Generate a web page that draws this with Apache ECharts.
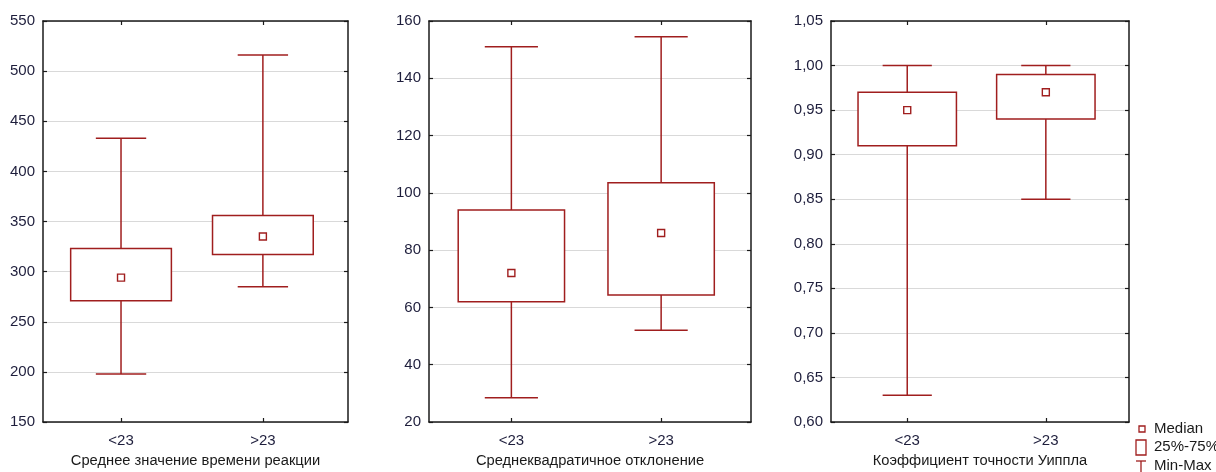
<!DOCTYPE html>
<html><head><meta charset="utf-8">
<script src="https://cdn.jsdelivr.net/npm/echarts@6/dist/echarts.min.js"></script>
<style>html,body{margin:0;padding:0;background:#fff}#c{width:1216px;height:472px}</style>
</head><body><div id="c"></div>
<script>
// ---- data ----
const categories = ['<23', '>23'];
const titles = ['Среднее значение времени реакции', 'Среднеквадратичное отклонение', 'Коэффициент точности Уиппла'];
// Panel 1: mean reaction time
const rtMin = [198, 285];
const rtQ1 = [271, 317];
const rtMed = [294, 335];
const rtQ3 = [323, 356];
const rtMax = [433, 516];
// Panel 2: standard deviation
const sdMin = [28.5, 52];
const sdQ1 = [62, 64.3];
const sdMed = [72, 86];
const sdQ3 = [94, 103.5];
const sdMax = [151, 154.5];
// Panel 3: Whipple accuracy coefficient
const wMin = [0.63, 0.85];
const wQ1 = [0.91, 0.94];
const wMed = [0.95, 0.97];
const wQ3 = [0.97, 0.99];
const wMax = [1.00, 1.00];
// y-axis ranges / ticks
const yMin = [150, 20, 0.60];
const yMax = [550, 160, 1.05];
const yStep = [50, 20, 0.05];
const legendLabels = ['Median', '25%-75%', 'Min-Max'];

// ---- layout ----
const grids = [
  {left: 43, top: 21, width: 305, height: 401, outerBoundsMode: 'none', containLabel: false},
  {left: 429, top: 21, width: 322, height: 401, outerBoundsMode: 'none', containLabel: false},
  {left: 831, top: 21, width: 298, height: 401, outerBoundsMode: 'none', containLabel: false}
];
const RED = '#a01e1e';
const FRAME = '#1a1a1a';
const LABEL = '#1e1e3c';
const FONT = 'Liberation Sans, Arial, sans-serif';

const panels = [
  [rtMin, rtQ1, rtMed, rtQ3, rtMax],
  [sdMin, sdQ1, sdMed, sdQ3, sdMax],
  [wMin, wQ1, wMed, wQ3, wMax]
];

const xAxes = [], yAxes = [], series = [];
panels.forEach((p, i) => {
  const base = {
    type: 'value', gridIndex: i, min: 0.45, max: 2.6,
    axisLine: {show: true, lineStyle: {color: FRAME, width: 1.5}},
    axisTick: {show: true, inside: true, length: 4, customValues: [1, 2], lineStyle: {color: FRAME, width: 1.2}},
    splitLine: {show: false}
  };
  xAxes.push(Object.assign({}, base, {
    position: 'bottom',
    axisLabel: {show: true, customValues: [1, 2], formatter: v => categories[Math.round(v) - 1],
      fontFamily: FONT, fontSize: 15, color: LABEL, margin: 11},
    name: titles[i], nameLocation: 'middle', nameGap: 31,
    nameTextStyle: {fontFamily: FONT, fontSize: 14.7, color: '#1a1a1a'}
  }));
  xAxes.push(Object.assign({}, base, {position: 'top', axisLabel: {show: false}}));
  const ybase = {
    type: 'value', gridIndex: i, min: yMin[i], max: yMax[i], interval: yStep[i],
    axisLine: {show: true, lineStyle: {color: FRAME, width: 1.5}},
    axisTick: {show: true, inside: true, length: 4, lineStyle: {color: FRAME, width: 1.2}}
  };
  yAxes.push(Object.assign({}, ybase, {
    position: 'left',
    axisLabel: {show: true, fontFamily: FONT, fontSize: 15, color: LABEL, margin: 8,
      formatter: v => i === 2 ? v.toFixed(2).replace('.', ',') : String(v)},
    splitLine: {show: true, lineStyle: {color: '#d9d9d9', width: 1}}
  }));
  yAxes.push(Object.assign({}, ybase, {position: 'right', axisLabel: {show: false}, splitLine: {show: false}}));

  const data = categories.map((c, k) => [k + 1, p[0][k], p[1][k], p[2][k], p[3][k], p[4][k]]);
  series.push({
    type: 'custom', xAxisIndex: i * 2, yAxisIndex: i * 2, data: data,
    encode: {x: 0, y: [1, 2, 3, 4, 5]},
    renderItem: function (params, api) {
      const x = api.value(0);
      const pMin = api.coord([x, api.value(1)]);
      const pQ1 = api.coord([x, api.value(2)]);
      const pMed = api.coord([x, api.value(3)]);
      const pQ3 = api.coord([x, api.value(4)]);
      const pMax = api.coord([x, api.value(5)]);
      const bw = api.size([0.71, 0])[0];
      const cw = api.size([0.355, 0])[0];
      const cx = pMed[0];
      const st = {stroke: RED, lineWidth: 1.5, fill: null};
      return {
        type: 'group',
        children: [
          {type: 'line', shape: {x1: cx, y1: pMax[1], x2: cx, y2: pQ3[1]}, style: st},
          {type: 'line', shape: {x1: cx, y1: pQ1[1], x2: cx, y2: pMin[1]}, style: st},
          {type: 'line', shape: {x1: cx - cw / 2, y1: pMax[1], x2: cx + cw / 2, y2: pMax[1]}, style: st},
          {type: 'line', shape: {x1: cx - cw / 2, y1: pMin[1], x2: cx + cw / 2, y2: pMin[1]}, style: st},
          {type: 'rect', shape: {x: cx - bw / 2, y: pQ3[1], width: bw, height: pQ1[1] - pQ3[1]},
            style: {stroke: RED, lineWidth: 1.5, fill: '#fff'}},
          {type: 'rect', shape: {x: cx - 3.5, y: pMed[1] - 3.5, width: 7, height: 7},
            style: {stroke: RED, lineWidth: 1.4, fill: '#fff'}}
        ]
      };
    }
  });
});

const legendText = {fontFamily: FONT, fontSize: 15, fill: '#1a1a1a', textVerticalAlign: 'middle', verticalAlign: 'middle'};
const graphic = [
  {type: 'rect', shape: {x: 1139, y: 426, width: 6, height: 6}, style: {stroke: RED, lineWidth: 1.3, fill: '#fff'}},
  {type: 'text', x: 1154, y: 429, style: Object.assign({text: legendLabels[0]}, legendText)},
  {type: 'rect', shape: {x: 1136, y: 440, width: 10, height: 15}, style: {stroke: RED, lineWidth: 1.3, fill: '#fff'}},
  {type: 'text', x: 1154, y: 447, style: Object.assign({text: legendLabels[1]}, legendText)},
  {type: 'line', shape: {x1: 1136, y1: 461, x2: 1146, y2: 461}, style: {stroke: RED, lineWidth: 1.3}},
  {type: 'line', shape: {x1: 1141, y1: 461, x2: 1141, y2: 472}, style: {stroke: RED, lineWidth: 1.3}},
  {type: 'text', x: 1154, y: 466, style: Object.assign({text: legendLabels[2]}, legendText)}
];

const chart = echarts.init(document.getElementById('c'));
chart.setOption({
  animation: false,
  backgroundColor: '#fff',
  grid: grids,
  xAxis: xAxes,
  yAxis: yAxes,
  series: series,
  graphic: graphic
});
</script></body></html>
